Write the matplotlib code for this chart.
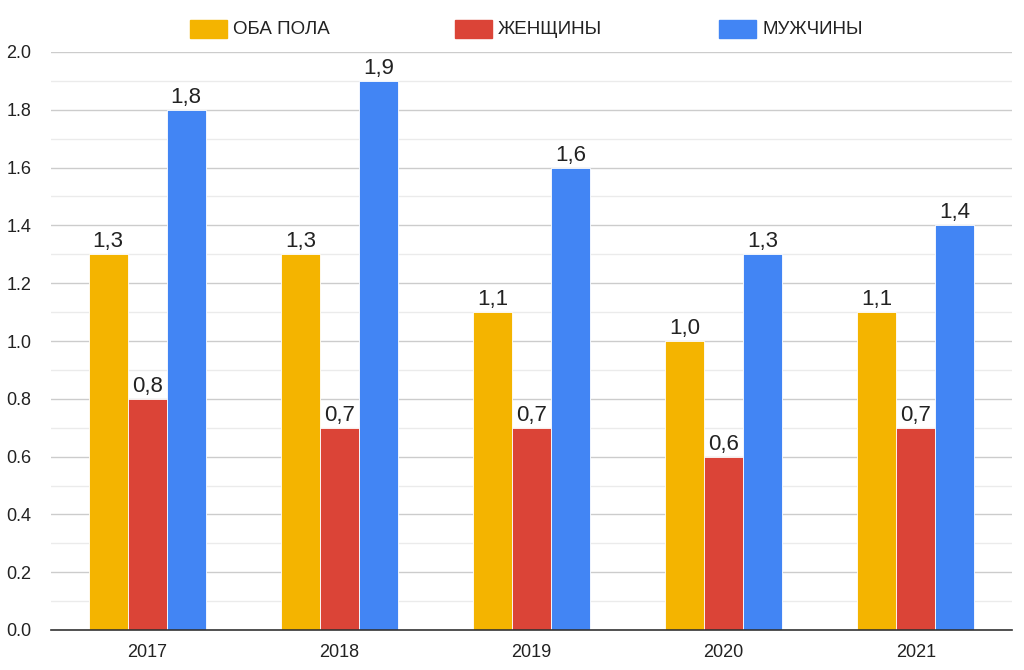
import numpy as np
import matplotlib.pyplot as plt
from matplotlib.patches import Rectangle

years = ["2017", "2018", "2019", "2020", "2021"]
both = [1.3, 1.3, 1.1, 1.0, 1.1]
women = [0.8, 0.7, 0.7, 0.6, 0.7]
men = [1.8, 1.9, 1.6, 1.3, 1.4]
series_names = ["ОБА ПОЛА", "ЖЕНЩИНЫ", "МУЖЧИНЫ"]
colors = ["#F4B400", "#DB4437", "#4285F4"]


def main():
    plt.rcParams["font.family"] = ["Liberation Sans", "DejaVu Sans"]
    fig = plt.figure(figsize=(10.24, 6.7), dpi=100)
    ax = fig.add_axes([51 / 1024, 40 / 670, 961 / 1024, 578 / 670])

    x = np.arange(len(years))
    width = 0.203
    for i, (vals, name, col) in enumerate(zip([both, women, men], series_names, colors)):
        bars = ax.bar(x + (i - 1) * width, vals, width, color=col,
                      edgecolor="white", linewidth=0.6, label=name, zorder=3)
        for b, v in zip(bars, vals):
            ax.annotate(f"{v:.1f}".replace(".", ","),
                        (b.get_x() + b.get_width() / 2, v),
                        xytext=(0, 1.5), textcoords="offset points",
                        ha="center", va="bottom", fontsize=16, color="#222222")

    ax.set_xlim(-0.5, len(years) - 0.5)
    ax.set_ylim(0, 2.0)
    ax.set_xticks(x)
    ax.set_xticklabels(years)
    ax.set_yticks(np.arange(0, 2.01, 0.2))
    ax.set_yticklabels([f"{t:.1f}" for t in np.arange(0, 2.01, 0.2)])
    ax.set_yticks(np.arange(0.1, 2.0, 0.2), minor=True)
    ax.tick_params(axis="both", length=0, labelsize=13, colors="#222222")
    ax.tick_params(axis="y", pad=14)
    ax.tick_params(axis="x", pad=10)
    ax.tick_params(axis="y", which="minor", length=0)
    ax.grid(axis="y", which="major", color="#cccccc", linewidth=1, zorder=0)
    ax.grid(axis="y", which="minor", color="#ebebeb", linewidth=1, zorder=0)
    for s in ["top", "right", "left"]:
        ax.spines[s].set_visible(False)
    ax.spines["bottom"].set_color("#333333")
    ax.spines["bottom"].set_linewidth(1.2)
    ax.spines["bottom"].set_zorder(4)

    # legend drawn by hand to match spacing
    legend_x = [190, 455, 719]
    for lx, name, col in zip(legend_x, series_names, colors):
        fig.add_artist(Rectangle((lx / 1024, (670 - 38) / 670), 37 / 1024, 18 / 670,
                                 color=col, transform=fig.transFigure))
        fig.text((lx + 43) / 1024, (670 - 29) / 670, name, fontsize=13.5,
                 va="center", ha="left", color="#222222")

    fig.savefig("out.png", dpi=100)


if __name__ == "__main__":
    main()
